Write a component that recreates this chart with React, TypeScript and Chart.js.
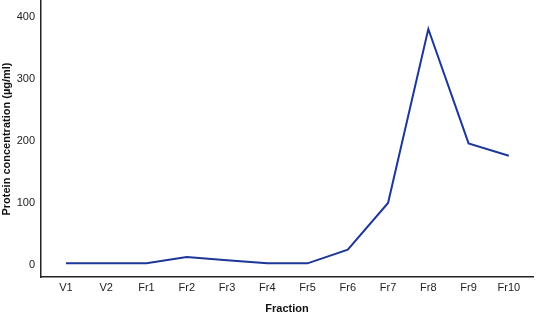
import React, { useEffect, useRef } from "react";
import { Chart, registerables } from "chart.js";

Chart.register(...registerables);

const categories = ["V1", "V2", "Fr1", "Fr2", "Fr3", "Fr4", "Fr5", "Fr6", "Fr7", "Fr8", "Fr9", "Fr10"];
const proteinValues = [3, 3, 3, 13, 8, 3, 3, 25, 100, 380, 196, 176];
const yTicks = [0, 100, 200, 300, 400];

export default function App() {
  const ref = useRef<HTMLCanvasElement | null>(null);
  useEffect(() => {
    if (!ref.current) return;
    const chart = new Chart(ref.current, {
      type: "line",
      data: {
        datasets: [
          {
            data: proteinValues.map((v, i) => ({ x: i, y: v })),
            borderColor: "#1c3797",
            borderWidth: 2,
            pointRadius: 0,
            tension: 0,
            fill: false,
          },
        ],
      },
      options: {
        animation: false,
        responsive: false,
        maintainAspectRatio: false,
        layout: { padding: { top: 1, right: 3, left: 0, bottom: 0 } },
        plugins: { legend: { display: false }, tooltip: { enabled: false } },
        scales: {
          x: {
            type: "linear",
            min: -0.62,
            max: 11.6,
            afterBuildTicks: (scale: any) => {
              scale.ticks = categories.map((_, i) => ({ value: i }));
            },
            afterFit: (scale: any) => {
              scale.height = 37;
              scale.paddingLeft = 0;
              scale.paddingRight = 0;
            },
            grid: { display: false, drawTicks: false },
            border: { display: true, color: "#222", width: 1.5 },
            ticks: {
              padding: 4,
              color: "#222",
              font: { family: "Liberation Sans", size: 11 },
              maxRotation: 0,
              autoSkip: false,
              callback: (v: any) => categories[Math.round(Number(v))] ?? "",
            },
            title: {
              display: true,
              text: "Fraction",
              color: "#111",
              font: { family: "Liberation Sans", size: 11, weight: "bold" },
              padding: { top: 10, bottom: -2 },
            },
          },
          y: {
            type: "linear",
            min: -19,
            max: 425,
            afterBuildTicks: (scale: any) => {
              scale.ticks = yTicks.map((v) => ({ value: v }));
            },
            afterFit: (scale: any) => {
              scale.width = 41;
              scale.paddingTop = 0;
              scale.paddingBottom = 0;
            },
            grid: { display: false, drawTicks: false },
            border: { display: true, color: "#222", width: 1.5 },
            ticks: {
              padding: 6,
              color: "#222",
              font: { family: "Liberation Sans", size: 11 },
            },
            title: {
              display: true,
              text: "Protein concentration (µg/ml)",
              color: "#111",
              font: { family: "Liberation Sans", size: 11, weight: "bold" },
              padding: { top: 0, bottom: 2 },
            },
          },
        },
      },
    });
    return () => chart.destroy();
  }, []);
  return (
    <div style={{ position: "fixed", left: 0, top: 0, width: 536, height: 314, background: "#fff" }}>
      <canvas ref={ref} width={536} height={314} style={{ width: 536, height: 314 }} />
    </div>
  );
}
